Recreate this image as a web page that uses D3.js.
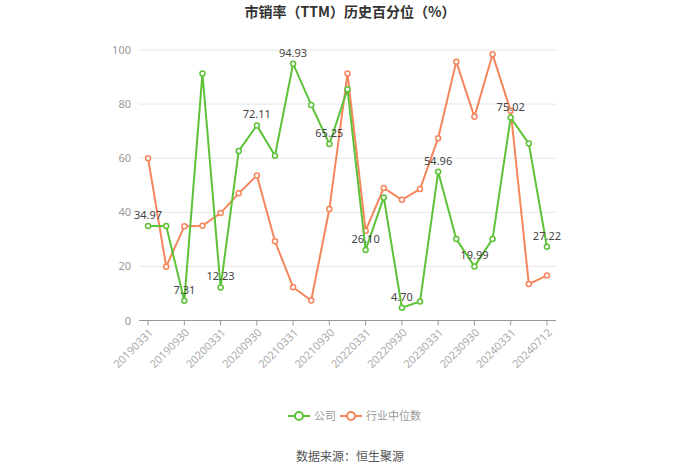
<!DOCTYPE html>
<html><head><meta charset="utf-8">
<script src="https://cdn.jsdelivr.net/npm/d3@7/dist/d3.min.js"></script>
<style>body{margin:0;background:#fff;}svg{display:block;font-family:"Noto Sans CJK SC","Noto Sans",sans-serif;}</style>
</head><body>
<svg id="c" width="700" height="474"></svg>
<script>
const categories = ["20190331","20190630","20190930","20191231","20200331","20200630","20200930","20201231","20210331","20210630","20210930","20211231","20220331","20220630","20220930","20221231","20230331","20230630","20230930","20231231","20240331","20240630","20240712"];
const companyValues = [34.97,34.9,7.31,91.3,12.23,62.7,72.11,60.9,94.93,79.7,65.25,85.5,26.10,45.5,4.70,7.0,54.96,30.1,19.99,30.1,75.02,65.4,27.22];
const industryValues = [60.0,19.9,34.8,35.0,39.7,47.0,53.6,29.3,12.3,7.4,41.2,91.3,33.2,49.0,44.6,48.6,67.4,95.7,75.3,98.4,77.5,13.5,16.6];
const yTicks = [0,20,40,60,80,100];
const seriesNames = ["公司","行业中位数"];
const colors = ["#5dc238","#f5865c"];

(function(){
const svg = d3.select("#c");
const pLeft = 139, pRight = 556, pTop = 50, pBottom = 320.5;
const x = d3.scaleBand().domain(categories).range([pLeft, pRight]);
const cx = d => x(d) + x.bandwidth()/2;
const y = d3.scaleLinear().domain([0,100]).range([pBottom, pTop]);

svg.append("text").attr("x",350).attr("y",17).attr("text-anchor","middle")
  .attr("font-size",14).attr("font-weight","bold").attr("fill","#333")
  .text("市销率（TTM）历史百分位（%）");

svg.append("g").selectAll("line").data(yTicks.filter(t=>t>0)).join("line")
  .attr("x1",pLeft).attr("x2",pRight).attr("y1",d=>y(d)).attr("y2",d=>y(d))
  .attr("stroke","#e6e6e6").attr("stroke-width",1);
const yAxis = d3.axisLeft(y).tickValues(yTicks).tickSize(0).tickPadding(8);
const gy = svg.append("g").attr("transform",`translate(${pLeft},0)`).call(yAxis);
gy.select(".domain").remove();
gy.selectAll("text").attr("fill","#999").attr("font-size",11).attr("font-family","'Noto Sans','Noto Sans CJK SC',sans-serif");

const labelled = categories.filter((d,i)=>i%2===0 || i===categories.length-1);
const gx = svg.append("g").attr("transform",`translate(0,${pBottom})`);
gx.append("line").attr("x1",pLeft).attr("x2",pRight).attr("y1",0).attr("y2",0).attr("stroke","#999");
gx.selectAll("line.t").data(labelled).join("line").attr("class","t")
  .attr("x1",d=>cx(d)).attr("x2",d=>cx(d)).attr("y1",0).attr("y2",5).attr("stroke","#999");
gx.selectAll("text").data(labelled).join("text")
  .attr("transform",d=>`translate(${cx(d)+3},${10}) rotate(-45)`)
  .attr("text-anchor","end").attr("dy","0.35em").attr("font-size",11).attr("fill","#aaa")
  .attr("font-family","'Noto Sans',sans-serif")
  .text(d=>d);

const line = d3.line().x((d,i)=>cx(categories[i])).y(d=>y(d));
[industryValues, companyValues].forEach((vals,k)=>{
  const col = k===0 ? colors[1] : colors[0];
  svg.append("path").datum(vals).attr("d",line).attr("fill","none").attr("stroke",col).attr("stroke-width",2);
  svg.append("g").selectAll("circle").data(vals).join("circle")
    .attr("cx",(d,i)=>cx(categories[i])).attr("cy",d=>y(d)).attr("r",2.5)
    .attr("fill","#fff").attr("stroke",col).attr("stroke-width",1.5);
});
svg.append("g").selectAll("text").data(companyValues.map((v,i)=>[v,i]).filter(d=>d[1]%2===0)).join("text")
  .attr("x",d=>cx(categories[d[1]])).attr("y",d=>y(d[0])-7)
  .attr("text-anchor","middle").attr("font-size",11).attr("fill","#444")
  .attr("font-family","'Noto Sans',sans-serif")
  .text(d=>d[0].toFixed(2));

const lg = svg.append("g");
const items = [{n:seriesNames[0],c:colors[0],x:288},{n:seriesNames[1],c:colors[1],x:340}];
items.forEach(it=>{
  lg.append("line").attr("x1",it.x).attr("x2",it.x+22).attr("y1",416).attr("y2",416).attr("stroke",it.c).attr("stroke-width",2);
  lg.append("circle").attr("cx",it.x+11).attr("cy",416).attr("r",4).attr("fill","#fff").attr("stroke",it.c).attr("stroke-width",2);
  lg.append("text").attr("x",it.x+26).attr("y",416).attr("dy","0.35em").attr("font-size",11).attr("fill","#999").text(it.n);
});
svg.append("text").attr("x",350).attr("y",461).attr("text-anchor","middle").attr("font-size",12).attr("fill","#555").text("数据来源：恒生聚源");
})();
</script>
</body></html>
